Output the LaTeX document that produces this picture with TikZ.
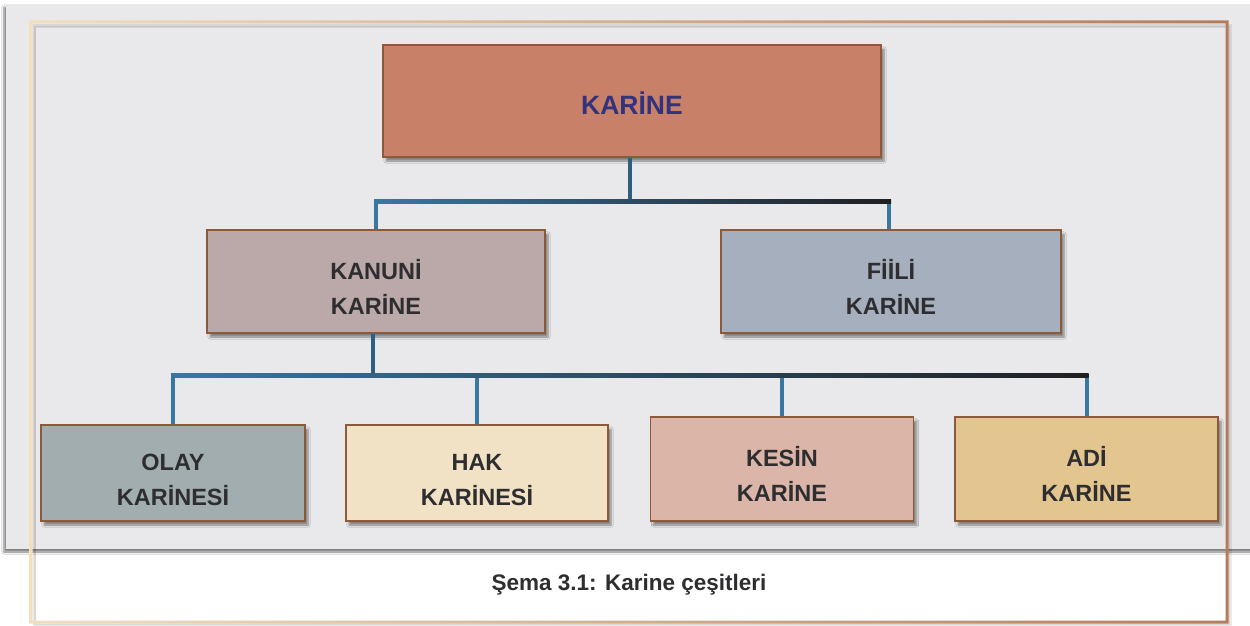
\documentclass[tikz,border=0pt]{standalone}
\usepackage{fontspec}
\setmainfont{Liberation Sans}
\usetikzlibrary{shadows,shadows.blur,calc}
\definecolor{panelgray}{HTML}{E9E9EB}
\definecolor{framel}{HTML}{F2DFBF}
\definecolor{framer}{HTML}{B57C5A}
\definecolor{boxborder}{HTML}{8A5A3A}
\definecolor{cblue}{HTML}{3A77A0}
\definecolor{cdark}{HTML}{1F1F22}
\definecolor{cmid}{HTML}{2F5D7E}
\definecolor{txtdark}{HTML}{2E2E30}
\definecolor{txttop}{HTML}{33337C}
\definecolor{ctop}{HTML}{C98069}
\definecolor{ckanuni}{HTML}{BBA8A9}
\definecolor{cfiili}{HTML}{A6AFBD}
\definecolor{colay}{HTML}{A2ADB0}
\definecolor{chak}{HTML}{F2E2C5}
\definecolor{ckesin}{HTML}{DAB5A8}
\definecolor{cadi}{HTML}{E3C590}
\newcommand{\mystrut}{\rule{0pt}{30pt}}
\tikzset{
  boxnode/.style={draw=boxborder, line width=1.6pt, inner sep=0pt, align=center,
    text=txtdark, font=\bfseries\fontsize{23.5}{35}\selectfont,
    blur shadow={shadow xshift=3pt, shadow yshift=-4pt, shadow blur steps=6, shadow opacity=45}},
  vline/.style={draw=cblue, line width=4pt},
}
\begin{document}
\begin{tikzpicture}[x=1pt,y=-1pt]
\useasboundingbox (0,0) rectangle (1250,626);
\fill[white] (0,0) rectangle (1250,626);
% gray panel
\fill[panelgray, blur shadow={shadow xshift=-2pt, shadow yshift=-3pt, shadow blur steps=6, shadow opacity=50}] (6,4) rectangle (1256,549);
% frame shadow and frame
\draw[black, line width=3pt, opacity=0.08] (34,26) rectangle (1230,625);
\draw[black, line width=2pt, opacity=0.08] (35,27) rectangle (1229,624);
\shade[even odd rule, left color=framel, right color=framer] (29.5,20.5) rectangle (1228.5,623.5) (32.5,23.5) rectangle (1225.5,620.5);

% nodes
\node[boxnode, fill=ctop, minimum width=498pt, minimum height=112pt, text=txttop,
      font=\bfseries\fontsize{26.5}{30}\selectfont] (top) at (632,101) {\rule{0pt}{27pt}KARİNE};
\node[boxnode, fill=ckanuni, minimum width=338pt, minimum height=103pt] (kanuni) at (376,281.5) {\mystrut KANUNİ\\KARİNE};
\node[boxnode, fill=cfiili, minimum width=340pt, minimum height=103pt] (fiili) at (891,281.5) {\mystrut FİİLİ\\KARİNE};
\node[boxnode, fill=colay, minimum width=264pt, minimum height=96pt] (olay) at (173,473) {\mystrut OLAY\\KARİNESİ};
\node[boxnode, fill=chak, minimum width=262pt, minimum height=96pt] (hak) at (477,473) {\mystrut HAK\\KARİNESİ};
\node[boxnode, fill=ckesin, minimum width=263pt, minimum height=104pt] (kesin) at (782,469) {\mystrut KESİN\\KARİNE};
\node[boxnode, fill=cadi, minimum width=263pt, minimum height=104pt] (adi) at (1086.5,469) {\mystrut ADİ\\KARİNE};

% connectors level 1
\coordinate (j1) at ($(top.south)+(-2,44)$);
\draw[draw=cmid, line width=4pt] ($(top.south)+(-2,0)$) -- (j1);
\draw[vline] ($(kanuni.north |- j1)+(0,-2)$) -- (kanuni.north);
\draw[vline] ($(fiili.north |- j1)+(-2,-2)$) -- ($(fiili.north)+(-2,0)$);
\shade[left color=cblue, right color=cdark] ($(kanuni.north |- j1)+(-2,-2)$) rectangle ($(fiili.north |- j1)+(0,2)$);

% connectors level 2
\coordinate (j2) at ($(kanuni.south)+(-3,42)$);
\draw[draw=cblue!80!black, line width=4pt] ($(kanuni.south)+(-3,0)$) -- (j2);
\draw[vline] ($(olay.north |- j2)+(0,-2)$) -- (olay.north);
\draw[vline] ($(hak.north |- j2)+(0,-2)$) -- (hak.north);
\draw[vline] ($(kesin.north |- j2)+(0,-2)$) -- (kesin.north);
\draw[vline] ($(adi.north |- j2)+(0,-2)$) -- (adi.north);
\shade[left color=cblue, right color=cdark] ($(olay.north |- j2)+(-2,-2)$) rectangle ($(adi.north |- j2)+(2,2)$);

% caption
\node[font=\bfseries\fontsize{22.5}{26}\selectfont, text=txtdark] (cap) at (629,585) {Şema 3.1: Karine çeşitleri};
\end{tikzpicture}
\end{document}
